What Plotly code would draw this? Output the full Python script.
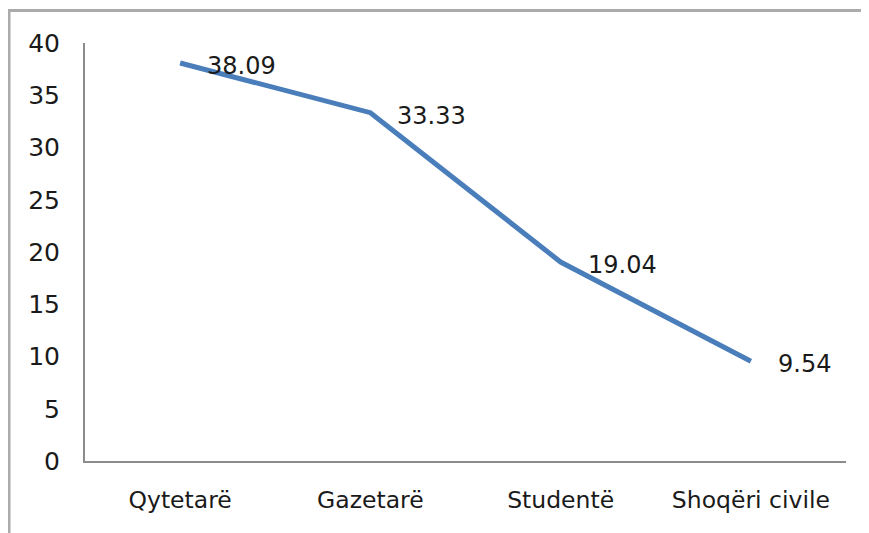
import plotly.graph_objects as go

categories = ["Qytetarë", "Gazetarë", "Studentë", "Shoqëri civile"]
values = [38.09, 33.33, 19.04, 9.54]
value_labels = ["38.09", "33.33", "19.04", "9.54"]
y_ticks = [0, 5, 10, 15, 20, 25, 30, 35, 40]

FONT = "DejaVu Sans"
OFF = 8  # default body margin of the html page
W, H = 869, 533
L, R, T, B = 85 - OFF, 23 + OFF, 43 - OFF, 72 + OFF
pw, ph = W - L - R, H - T - B

fig = go.Figure()
fig.add_trace(go.Scatter(
    x=categories, y=values, mode="lines",
    line=dict(color="#4a7ebb", width=5),
    showlegend=False, hoverinfo="skip",
))

for c, v, t in zip(categories, values, value_labels):
    fig.add_annotation(
        x=c, y=v, text=t, showarrow=False, xanchor="left", yanchor="middle",
        xshift=25, yshift=-3, font=dict(family=FONT, size=24, color="#1a1a1a"),
    )

# outer chart frame (cut off at right/bottom in the reference)
fig.add_shape(type="rect", xref="paper", yref="paper",
              x0=(9 - 85) / pw, x1=1 + 60 / pw, y0=-100 / ph, y1=1 + (43 - 10.5) / ph,
              line=dict(color="#ababab", width=3), fillcolor="rgba(0,0,0,0)", layer="below")

fig.update_layout(
    width=W, height=H,
    margin=dict(l=L, r=R, t=T, b=B),
    paper_bgcolor="white", plot_bgcolor="white",
    font=dict(family=FONT, size=20, color="#1a1a1a"),
    xaxis=dict(
        type="category", range=[-0.5, 3.5], showgrid=False, zeroline=False,
        showline=True, linecolor="#8c8c8c", linewidth=2, ticks="",
        tickfont=dict(family=FONT, size=23.5, color="#1a1a1a"), ticklabelstandoff=17,
    ),
    yaxis=dict(
        range=[0, 40], tickvals=y_ticks, showgrid=False, zeroline=False,
        showline=True, linecolor="#8c8c8c", linewidth=2, ticks="",
        tickfont=dict(family=FONT, size=25, color="#1a1a1a"), ticklabelstandoff=18,
    ),
)

fig.write_html("out.html")
